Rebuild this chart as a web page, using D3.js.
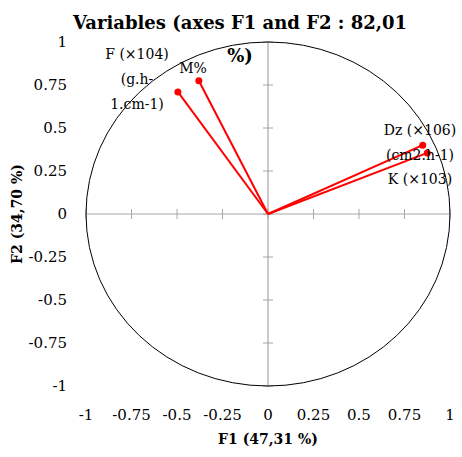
<!DOCTYPE html>
<html>
<head>
<meta charset="utf-8">
<script src="https://cdn.jsdelivr.net/npm/d3@7"></script>
<style>
  body { margin: 0; background: #fff; }
  text { font-family: "DejaVu Serif", serif; }
</style>
</head>
<body>
<svg id="chart" width="462" height="457"></svg>
<script>
// variables on the correlation circle
let varLabels = [["F (×104)", "(g.h-", "1.cm-1)"], ["M%"], ["Dz (×106)", "(cm2.h-1)"], ["K (×103)"]]
let f1 = [-0.495, -0.38, 0.85, 0.875]
let f2 = [0.71, 0.775, 0.40, 0.355]
let tickVals = [-1, -0.75, -0.5, -0.25, 0, 0.25, 0.5, 0.75, 1]

let svg = d3.select('#chart')

let x = d3.scaleLinear().domain([-1, 1]).range([86, 450])
let y = d3.scaleLinear().domain([-1, 1]).range([386, 42])

// axes through the origin
svg.append('line')
    .attr('x1', x(-1)).attr('x2', x(1))
    .attr('y1', y(0)).attr('y2', y(0))
    .style('stroke', '#a6a6a6').style('stroke-width', 1.2)
svg.append('line')
    .attr('x1', x(0)).attr('x2', x(0))
    .attr('y1', y(-1)).attr('y2', y(1))
    .style('stroke', '#a6a6a6').style('stroke-width', 1.2)

// cross ticks
svg.selectAll('.xt')
    .data(tickVals).enter().append('line')
    .attr('x1', d => x(d)).attr('x2', d => x(d))
    .attr('y1', y(0) - 5).attr('y2', y(0) + 5)
    .style('stroke', '#a6a6a6')
svg.selectAll('.yt')
    .data(tickVals).enter().append('line')
    .attr('x1', x(0) - 5).attr('x2', x(0) + 5)
    .attr('y1', d => y(d)).attr('y2', d => y(d))
    .style('stroke', '#a6a6a6')

// circle (ellipse since scales differ)
svg.append('ellipse')
    .attr('cx', x(0)).attr('cy', y(0))
    .attr('rx', x(1) - x(0)).attr('ry', y(0) - y(1))
    .style('fill', 'none').style('stroke', 'black').style('stroke-width', 1)

// tick labels
svg.selectAll('.xl')
    .data(tickVals).enter().append('text')
    .attr('x', d => x(d)).attr('y', 420)
    .attr('text-anchor', 'middle')
    .style('font-size', '15px')
    .text(d => d)
svg.selectAll('.yl')
    .data(tickVals).enter().append('text')
    .attr('x', 67).attr('y', d => y(d) + 5)
    .attr('text-anchor', 'end')
    .style('font-size', '15px')
    .text(d => d)

// vectors
let pts = f1.map((v, i) => [v, f2[i]])
svg.selectAll('.vec')
    .data(pts).enter().append('line')
    .attr('x1', x(0)).attr('y1', y(0))
    .attr('x2', d => x(d[0])).attr('y2', d => y(d[1]))
    .style('stroke', 'red').style('stroke-width', 2)
svg.selectAll('.dot')
    .data(pts).enter().append('circle')
    .attr('cx', d => x(d[0])).attr('cy', d => y(d[1]))
    .attr('r', 3.5)
    .style('fill', 'red')

// labels
let labelPos = [[137, 59], [193, 73], [420, 135], [420, 184]]
varLabels.forEach(function (lines, i) {
    let t = svg.append('text')
        .attr('x', labelPos[i][0]).attr('y', labelPos[i][1])
        .attr('text-anchor', 'middle')
        .style('font-size', '14px')
    lines.forEach(function (s, j) {
        t.append('tspan')
            .attr('x', labelPos[i][0])
            .attr('dy', j == 0 ? 0 : 25)
            .text(s)
    })
})

// title
svg.append('text')
    .attr('x', 240).attr('y', 29)
    .attr('text-anchor', 'middle')
    .style('font-size', '18px').style('font-weight', 'bold')
    .text('Variables (axes F1 and F2 : 82,01')
svg.append('text')
    .attr('x', 240).attr('y', 62)
    .attr('text-anchor', 'middle')
    .style('font-size', '18px').style('font-weight', 'bold')
    .text('%)')

// axis titles
svg.append('text')
    .attr('x', x(0)).attr('y', 444)
    .attr('text-anchor', 'middle')
    .style('font-size', '14px').style('font-weight', 'bold')
    .text('F1 (47,31 %)')
svg.append('text')
    .attr('transform', 'rotate(-90)')
    .attr('x', -y(0)).attr('y', 22)
    .attr('text-anchor', 'middle')
    .style('font-size', '14px').style('font-weight', 'bold')
    .text('F2 (34,70 %)')
</script>
</body>
</html>
